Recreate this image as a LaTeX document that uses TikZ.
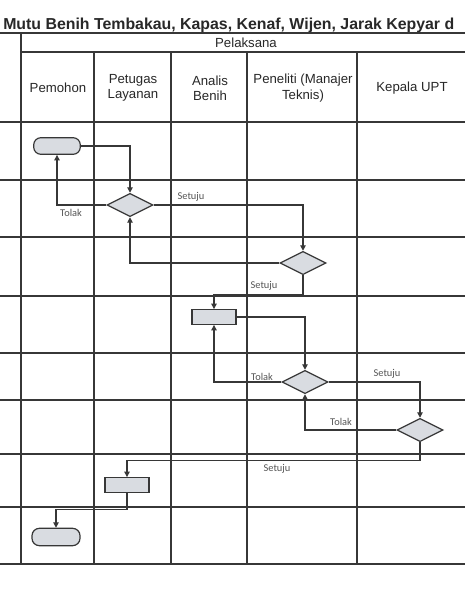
\documentclass[tikz,border=0pt]{standalone}
\usepackage{fontspec}
\setmainfont{Liberation Sans}
\newfontfamily\labelfont{Carlito}
\usetikzlibrary{arrows.meta,shapes.geometric}

\tikzset{
    grid/.style={draw=linecolor, line width=1.1pt},
    terminal/.style={draw=linecolor, fill=shapecolor, line width=0.9pt, rectangle,
        rounded corners=5.5pt, inner sep=0pt, minimum width=35pt, minimum height=12.5pt},
    activity/.style={draw=linecolor, fill=shapecolor, line width=0.9pt, rectangle,
        inner sep=0pt, minimum width=33pt, minimum height=11pt},
    decision/.style={draw=linecolor, fill=shapecolor, line width=0.9pt, diamond,
        inner sep=0pt, minimum width=34.5pt, minimum height=17.5pt},
    flow/.style={draw=linecolor, line width=0.8pt, -{Triangle[length=4pt,width=4pt]}},
    head/.style={font=\fontsize{9.9}{11.5}\selectfont, text=textcolor, align=center},
    answer/.style={font=\labelfont\fontsize{7.8}{9}\selectfont, text=labelcolor, inner sep=0pt}
}

\begin{document}
\begin{tikzpicture}[x=0.75pt, y=-0.75pt]
        % -- colour definitions --------------------------------------------------
        \definecolor{linecolor}{RGB}{55,55,55}
        \definecolor{shapecolor}{RGB}{217,220,225}
        \definecolor{textcolor}{RGB}{40,40,40}
        \definecolor{labelcolor}{RGB}{85,85,85}

        \useasboundingbox[fill=white] (0,0) rectangle (465,600);

        % -- title ---------------------------------------------------------------
        \node[anchor=base west, inner sep=0pt, text=textcolor,
              font=\fontsize{11.9}{14}\selectfont\bfseries] (judul) at (3,29)
            {Mutu Benih Tembakau, Kapas, Kenaf, Wijen, Jarak Kepyar d};

        % -- table grid ----------------------------------------------------------
        \draw[grid] (0,33) -- (465,33);
        \draw[grid] (21,52) -- (465,52);
        \draw[grid] (21,33) -- (21,564);
        \foreach \gx in {94,171,247,357} {
            \draw[grid] (\gx,52) -- (\gx,564);
        }
        \foreach \gy in {122,180,237,296,353,400,454,507,564} {
            \draw[grid] (0,\gy) -- (465,\gy);
        }

        % -- header texts --------------------------------------------------------
        \node[head] (pelaksana) at (246,43)  {Pelaksana};
        \node[head] (pemohon)   at (58,88)   {Pemohon};
        \node[head] (petugas)   at (133,88)  {Petugas\\Layanan};
        \node[head] (analis)    at (210,88)  {Analis\\Benih};
        \node[head] (peneliti)  at (303,88)  {Peneliti (Manajer\\Teknis)};
        \node[head] (kepala)    at (412,88)  {Kepala UPT};

        % -- flow shapes ---------------------------------------------------------
        \node[terminal] (mulai)   at (57,146)  {};
        \node[decision] (cek1)    at (130,205) {};
        \node[decision] (cek2)    at (303,263) {};
        \node[activity] (uji)     at (214,317) {};
        \node[decision] (cek3)    at (305,382) {};
        \node[decision] (cek4)    at (420,430) {};
        \node[activity] (terbit)  at (127,485) {};
        \node[terminal, minimum width=36pt, minimum height=13pt] (selesai) at (56,537) {};

        % -- connectors ----------------------------------------------------------
        \draw[flow] (mulai.east) -| (cek1.north);
        \draw[flow] (cek1.west) -| (mulai.south);
        \draw[flow] (cek1.east) -| (cek2.north);
        \draw[flow] (cek2.west) -| (cek1.south);
        \draw[flow] (cek2.south) -- ++(0,19) -| (uji.north);
        \draw[flow] (uji.east) -| (cek3.north);
        \draw[flow] (cek3.west) -| (uji.south);
        \draw[flow] (cek3.east) -| (cek4.north);
        \draw[flow] (cek4.west) -| (cek3.south);
        \draw[flow] (cek4.south) -- ++(0,18) -| (terbit.north);
        \draw[flow] (terbit.south) -- ++(0,17) -| (selesai.north);

        % -- decision labels -----------------------------------------------------
        \node[answer] (tolak1)  at (71,213)  {Tolak};
        \node[answer] (setuju1) at (191,197) {Setuju};
        \node[answer] (setuju2) at (264,286) {Setuju};
        \node[answer] (tolak2)  at (262,377) {Tolak};
        \node[answer] (setuju3) at (387,374) {Setuju};
        \node[answer] (tolak3)  at (341,422) {Tolak};
        \node[answer] (setuju4) at (277,469) {Setuju};
    \end{tikzpicture}
\end{document}
